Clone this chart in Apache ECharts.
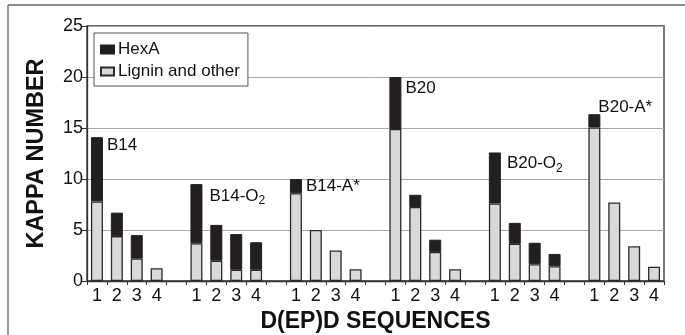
<!DOCTYPE html>
<html><head><meta charset="utf-8">
<script src="https://cdn.jsdelivr.net/npm/echarts@6/dist/echarts.min.js"></script>
<style>html,body{margin:0;padding:0;background:#fff}#c{width:685px;height:335px}</style>
</head><body><div id="c"></div>
<script>
// ---- data ----
const groupNames = ['B14', 'B14-O{sub|2}', 'B14-A*', 'B20', 'B20-O{sub|2}', 'B20-A*'];
const sequences = ['1', '2', '3', '4'];
const ligninB14   = [7.8, 4.4, 2.2, 1.25];
const ligninB14O2 = [3.7, 2.0, 1.1, 1.1];
const ligninB14A  = [8.6, 5.0, 3.0, 1.15];
const ligninB20   = [14.9, 7.25, 2.85, 1.15];
const ligninB20O2 = [7.6, 3.65, 1.65, 1.45];
const ligninB20A  = [15.05, 7.7, 3.4, 1.4];
const hexaB14     = [6.3, 2.3, 2.3, 0];
const hexaB14O2   = [5.8, 3.5, 3.5, 2.7];
const hexaB14A    = [1.4, 0, 0, 0];
const hexaB20     = [5.1, 1.2, 1.2, 0];
const hexaB20O2   = [5.0, 2.05, 2.1, 1.2];
const hexaB20A    = [1.3, 0, 0, 0];
const yTicks = [0, 5, 10, 15, 20, 25];

const ligninGroups = [ligninB14, ligninB14O2, ligninB14A, ligninB20, ligninB20O2, ligninB20A];
const hexaGroups = [hexaB14, hexaB14O2, hexaB14A, hexaB20, hexaB20O2, hexaB20A];
// label offsets (dx, dy) relative to top-left of the top segment
const labelOffsets = [[16, 0], [19, 1], [16, -1], [16, 3], [18, 0], [10, -15]];

const categories = [], ligninData = [], hexaData = [];
ligninGroups.forEach((g, gi) => {
  if (gi > 0) { categories.push(''); ligninData.push('-'); hexaData.push('-'); }
  g.forEach((v, i) => {
    categories.push(sequences[i]);
    ligninData.push(v);
    const h = hexaGroups[gi][i];
    if (i === 0) {
      hexaData.push({
        value: h,
        label: {
          show: true, position: labelOffsets[gi], formatter: groupNames[gi],
          color: '#111', fontSize: 17, fontFamily: 'Liberation Sans, Arial, sans-serif',
          rich: { sub: { fontSize: 12, fontFamily: 'Liberation Sans, Arial, sans-serif', color: '#111', verticalAlign: 'bottom', padding: [10, 0, 0, 0] } }
        }
      });
    } else {
      hexaData.push(h > 0 ? h : '-');
    }
  });
});

const font = 'Liberation Sans, Arial, sans-serif';
const chart = echarts.init(document.getElementById('c'), null, { renderer: 'canvas' });
chart.setOption({
  animation: false,
  backgroundColor: '#fff',
  graphic: [
    { type: 'line', shape: { x1: 8, y1: 5, x2: 685, y2: 5 }, style: { stroke: '#666', lineWidth: 1.3 } },
    { type: 'line', shape: { x1: 8, y1: 5, x2: 8, y2: 335 }, style: { stroke: '#666', lineWidth: 1.3 } }
  ],
  grid: { left: 87, top: 26, right: 21, bottom: 54, show: true, borderColor: '#333', borderWidth: 1.3, backgroundColor: 'transparent', containLabel: false, outerBoundsMode: 'none' },
  legend: {
    data: ['HexA', 'Lignin and other'],
    orient: 'vertical', left: 94, top: 33, icon: 'rect',
    padding: [8, 8, 6, 6], itemGap: 5, itemWidth: 13, itemHeight: 8,
    backgroundColor: '#fff', borderColor: '#555', borderWidth: 1,
    textStyle: { fontSize: 17, fontFamily: font, color: '#111', padding: [0, 0, 0, -1] }
  },
  xAxis: {
    type: 'category', data: categories,
    name: 'D(EP)D SEQUENCES', nameLocation: 'middle', nameGap: 28,
    nameTextStyle: { fontSize: 23, fontWeight: 'bold', fontFamily: font, color: '#111' },
    axisLine: { lineStyle: { color: '#333', width: 1.3 } },
    axisTick: { show: true, length: 4, interval: 0, lineStyle: { color: '#333' } },
    axisLabel: { interval: 0, fontSize: 18, fontFamily: font, color: '#111', margin: 6 }
  },
  yAxis: {
    type: 'value', min: yTicks[0], max: yTicks[yTicks.length - 1], interval: 5,
    name: 'KAPPA NUMBER', nameLocation: 'middle', nameGap: 38, nameRotate: 90,
    nameTextStyle: { fontSize: 23.5, fontWeight: 'bold', fontFamily: font, color: '#111' },
    axisLine: { show: true, lineStyle: { color: '#333', width: 1.3 } },
    axisTick: { show: true, length: 5, lineStyle: { color: '#333' } },
    axisLabel: { fontSize: 18, fontFamily: font, color: '#111', margin: 4 },
    splitLine: { lineStyle: { color: '#a8a8a8', width: 1 } }
  },
  series: [
    { name: 'Lignin and other', type: 'bar', stack: 'k', barWidth: 12, data: ligninData,
      itemStyle: { color: '#d9d9d9', borderColor: '#2a2a2a', borderWidth: 1.3 } },
    { name: 'HexA', type: 'bar', stack: 'k', barWidth: 12, data: hexaData,
      itemStyle: { color: '#231f20', borderColor: '#231f20', borderWidth: 1 } }
  ]
});
</script></body></html>
